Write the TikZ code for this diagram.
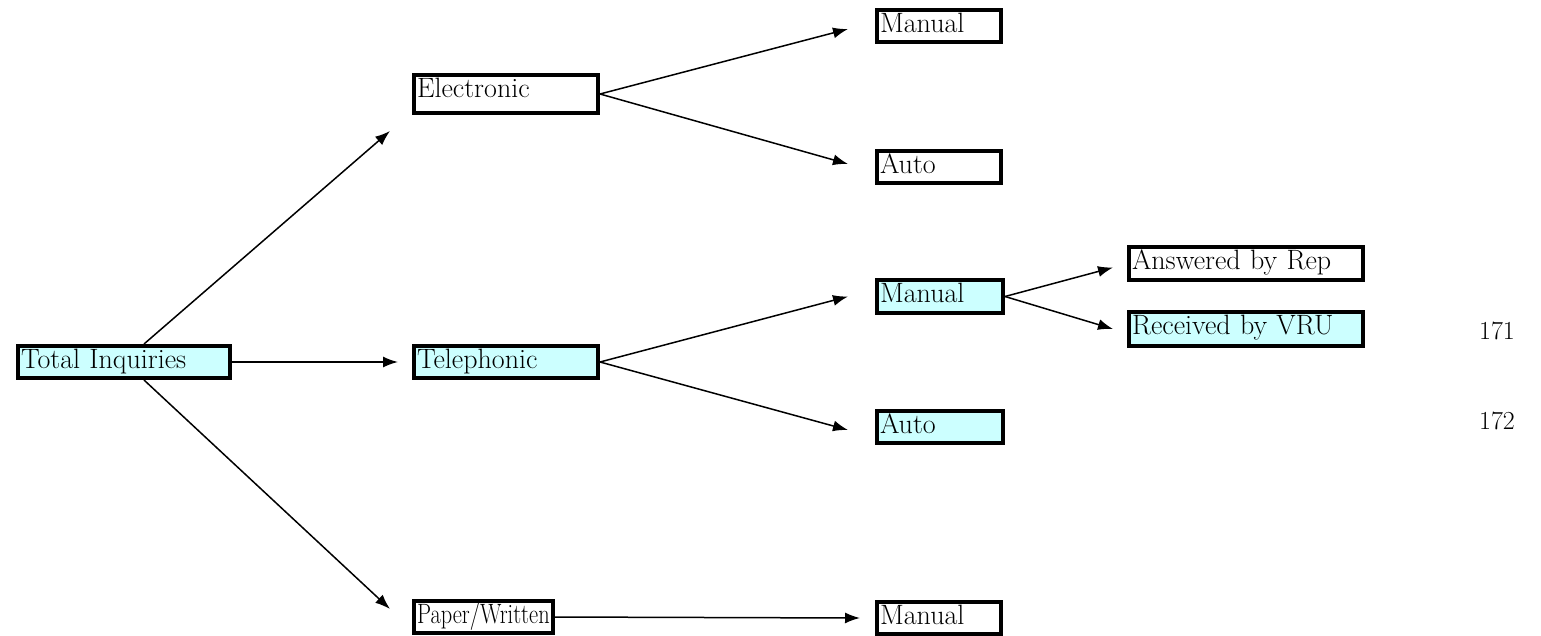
\documentclass[tikz,border=0pt]{standalone}
\usepackage{graphicx}
\usepackage{tikz}
\usetikzlibrary{arrows.meta}
\definecolor{pale}{HTML}{CCFFFF}

\begin{document}
\begin{tikzpicture}
[x=1pt,y=-1pt
,bx/.style={draw,line width=4pt,anchor=north west,inner xsep=3pt,inner ysep=1pt
  ,align=left,text height=21pt,text depth=9pt,font=\fontsize{28}{31}\selectfont}
,cy/.style={bx,fill=pale}
,wh/.style={bx,fill=white}
,ar/.style={line width=1.5pt,arrows={-Latex[length=15pt,width=11pt]}}
,num/.style={font=\fontsize{26}{29}\selectfont,inner sep=0pt}]
\useasboundingbox (0,0) rectangle (1541,635);
% first level
\node[cy,text width=206pt] (tot) at (16,344) {Total Inquiries};
\node[wh,text width=178pt,text depth=15pt] (ele) at (412,73) {Electronic};
\node[cy,text width=178pt] (tel) at (412,344) {Telephonic};
\node[wh,text width=133pt] (pap) at (412,599) {\scalebox{0.8}[1]{Paper/Written}};
% second level
\node[wh,text width=118pt] (em) at (875,8) {Manual};
\node[wh,text width=118pt] (ea) at (875,149) {Auto};
\node[cy,text width=120pt,text depth=10pt] (tm) at (875,278) {Manual};
\node[cy,text width=120pt] (ta) at (875,409) {Auto};
\node[wh,text width=118pt] (pm) at (875,600) {Manual};
% third level
\node[wh,text width=228pt,text depth=10pt] (ans) at (1127,245) {Answered by Rep};
\node[cy,text width=228pt,text depth=11pt] (vru) at (1127,310) {Received by VRU};
\node[num] (n171) at (1497,331) {171};
\node[num] (n172) at (1497,421) {172};
% connectors
\draw[ar] ([xshift=20pt]tot.north) -- ([xshift=-22pt,yshift=-16pt]ele.south west);
\draw[ar] (tot.east) -- ([xshift=-14pt]tel.west);
\draw[ar] ([xshift=20pt]tot.south) -- ([xshift=-22pt,yshift=-10pt]pap.north west);
\draw[ar] (ele.east) -- ([xshift=-27pt,yshift=-3pt]em.west);
\draw[ar] (ele.east) -- ([xshift=-27pt,yshift=3pt]ea.west);
\draw[ar] (tel.east) -- ([xshift=-27pt]tm.west);
\draw[ar] (tel.east) -- ([xshift=-27pt,yshift=-3pt]ta.west);
\draw[ar] (pap.east) -- ([xshift=-15pt]pm.west);
\draw[ar] (tm.east) -- ([xshift=-14pt,yshift=-4pt]ans.west);
\draw[ar] (tm.east) -- ([xshift=-14pt]vru.west);
\end{tikzpicture}
\end{document}
